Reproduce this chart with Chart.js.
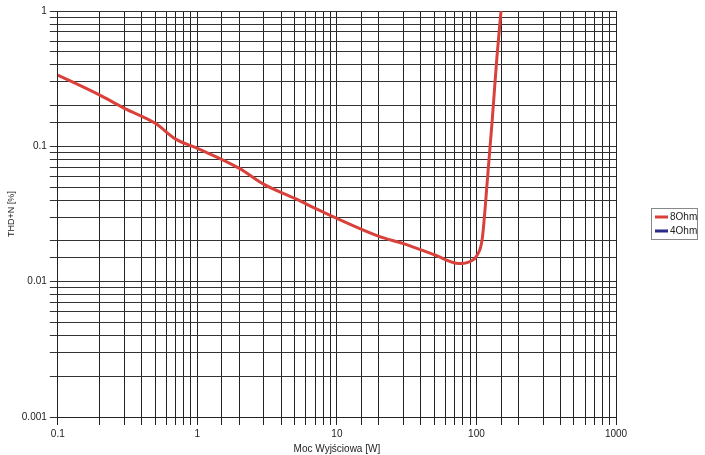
<!DOCTYPE html><html><head><script src="https://cdn.jsdelivr.net/npm/chart.js@4"></script>
<style>body{margin:0;background:#fff}#w{width:705px;height:455px}</style></head><body><div id="w"><canvas id="c"></canvas></div>
<script>
const power=[0.1,0.2,0.3,0.5,0.7,1,2,3,5,7,10,20,30,50,75,90,100,110,120,130,140,150];
const thd8=[0.336,0.239,0.191,0.148,0.113,0.0966,0.0687,0.0523,0.0412,0.0348,0.0293,0.0216,0.0191,0.0158,0.0136,0.0141,0.0154,0.0207,0.058,0.161,0.449,1.0];
const thd4=[];
const yTicks=[0.001,0.01,0.1,1];
const xTicks=[0.1,1,10,100,1000];
const fmt=v=>String(v);
const legendBox={id:'lb',afterDraw(c){const x=c.ctx;x.save();x.strokeStyle='#888';x.lineWidth=1;x.strokeRect(651.5,208.5,46,31);
c.data.datasets.forEach((d,i)=>{const y=217+i*14;x.fillStyle=d.borderColor;x.fillRect(655,y-1.5,13,3);
x.fillStyle='#222';x.font='10px "Liberation Sans"';x.textBaseline='middle';x.fillText(d.label,670,y);});x.restore();}};
new Chart(document.getElementById('c'),{type:'line',
data:{datasets:[{label:'8Ohm',data:power.map((p,i)=>({x:p,y:thd8[i]})),borderColor:'#d9413a',backgroundColor:'#d9413a',borderWidth:3,pointRadius:0,tension:0.4,cubicInterpolationMode:'monotone'},
{label:'4Ohm',data:thd4,borderColor:'#2a2a8a',backgroundColor:'#2a2a8a',borderWidth:3,pointRadius:0}]},
options:{animation:false,responsive:true,maintainAspectRatio:false,layout:{padding:{top:11,right:89,bottom:0,left:4}},
plugins:{legend:{display:false},tooltip:{enabled:false}},
scales:{x:{type:'logarithmic',min:0.1,max:1000,grid:{color:'#222',lineWidth:1},border:{color:'#222'},
ticks:{autoSkip:false,maxRotation:0,color:'#222',font:{family:'Liberation Sans',size:10},callback:v=>xTicks.includes(v)?fmt(v):''},
title:{display:true,text:'Moc Wyjściowa [W]',color:'#222',font:{family:'Liberation Sans',size:10},padding:0}},
y:{type:'logarithmic',min:0.001,max:1,grid:{color:'#333',lineWidth:1},border:{color:'#222'},
ticks:{autoSkip:false,color:'#222',font:{family:'Liberation Sans',size:10},callback:v=>yTicks.includes(v)?fmt(v):''},
title:{display:true,text:'THD+N [%]',color:'#222',font:{family:'Liberation Sans',size:9},padding:2}}}},
plugins:[legendBox]});
</script></body></html>
